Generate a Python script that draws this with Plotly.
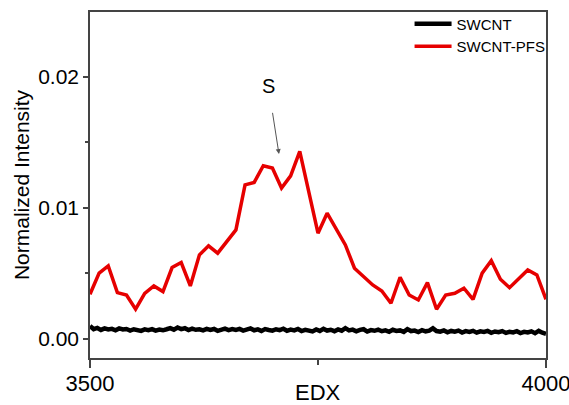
import plotly.graph_objects as go

# Red series: SWCNT-PFS, sampled every 10 units from 3500 to 4000
pfs_x = list(range(3500, 4001, 10))
pfs_y = [0.00339, 0.00500, 0.00556, 0.00351, 0.00333, 0.00224, 0.00346, 0.00402, 0.00359, 0.00543,
         0.00581, 0.00402, 0.00640, 0.00709, 0.00653, 0.00747, 0.00831, 0.01176, 0.01194, 0.01322,
         0.01304, 0.01151, 0.01245, 0.01431, 0.01120, 0.00806, 0.00959, 0.00837, 0.00716, 0.00538,
         0.00474, 0.00410, 0.00364, 0.00270, 0.00469, 0.00333, 0.00295, 0.00428, 0.00224, 0.00333,
         0.00346, 0.00385, 0.00300, 0.00500, 0.00596, 0.00454, 0.00389, 0.00461, 0.00525, 0.00487,
         0.00300]

# Black series: SWCNT, sampled every 4 units
swcnt_x = list(range(3500, 4001, 4))
swcnt_y = [0.00095, 0.00072, 0.00081, 0.00066, 0.00078, 0.00070, 0.00074, 0.00063, 0.00077, 0.00069,
           0.00073, 0.00061, 0.00071, 0.00066, 0.00058, 0.00070, 0.00064, 0.00072, 0.00060, 0.00068,
           0.00063, 0.00071, 0.00080, 0.00068, 0.00084, 0.00072, 0.00079, 0.00065, 0.00076, 0.00067,
           0.00071, 0.00062, 0.00074, 0.00066, 0.00073, 0.00059, 0.00070, 0.00076, 0.00064, 0.00072,
           0.00066, 0.00074, 0.00061, 0.00069, 0.00077, 0.00063, 0.00070, 0.00058, 0.00072, 0.00065,
           0.00060, 0.00071, 0.00064, 0.00075, 0.00059, 0.00068, 0.00062, 0.00073, 0.00057, 0.00066,
           0.00063, 0.00054, 0.00069, 0.00058, 0.00074, 0.00061, 0.00067, 0.00056, 0.00070, 0.00060,
           0.00079, 0.00062, 0.00068, 0.00055, 0.00066, 0.00071, 0.00053, 0.00064, 0.00059, 0.00068,
           0.00056, 0.00063, 0.00052, 0.00067, 0.00058, 0.00062, 0.00051, 0.00072, 0.00057, 0.00061,
           0.00050, 0.00064, 0.00055, 0.00060, 0.00078, 0.00057, 0.00052, 0.00062, 0.00048, 0.00058,
           0.00053, 0.00061, 0.00046, 0.00057, 0.00051, 0.00059, 0.00045, 0.00055, 0.00050, 0.00058,
           0.00044, 0.00054, 0.00049, 0.00057, 0.00043, 0.00052, 0.00047, 0.00056, 0.00042, 0.00051,
           0.00046, 0.00055, 0.00041, 0.00058, 0.00044, 0.00036]

x_ticks = [3500, 4000]
y_ticks = [0.0, 0.01, 0.02]
y_tick_labels = ["0.00", "0.01", "0.02"]

FONT = "Liberation Sans, Arial, sans-serif"

fig = go.Figure()
fig.add_trace(go.Scatter(x=swcnt_x, y=swcnt_y, mode="lines", name="SWCNT",
                         line=dict(color="black", width=4.5)))
fig.add_trace(go.Scatter(x=pfs_x, y=pfs_y, mode="lines", name="SWCNT-PFS",
                         line=dict(color="#e60000", width=3.5)))

axis_common = dict(showline=True, linecolor="#444", linewidth=1.5, mirror=True,
                   showgrid=False, zeroline=False, ticks="outside", tickcolor="#444",
                   automargin=False, ticklabeloverflow="allow")

fig.update_xaxes(range=[3500, 4000], tickvals=x_ticks, ticklen=8, tickwidth=1.5,
                 ticklabelstandoff=-3,
                 tickfont=dict(family=FONT, size=22, color="black"),
                 minor=dict(tickvals=[3750], ticklen=5, ticks="outside", tickcolor="#444", tickwidth=1.5),
                 **axis_common)
fig.update_yaxes(range=[-0.00149, 0.02498], tickvals=y_ticks, ticktext=y_tick_labels,
                 ticklen=5, tickwidth=1.5,
                 tickfont=dict(family=FONT, size=21, color="black"),
                 minor=dict(tickvals=[0.005, 0.015], ticklen=3, ticks="outside", tickcolor="#444", tickwidth=1.5),
                 title=dict(text="Normalized Intensity", font=dict(family=FONT, size=21, color="black"), standoff=3),
                 **axis_common)

# x-axis title placed as text just below the axis (overlaps the tick-label band as in the reference)
fig.add_annotation(x=0.5, y=-0.1, xref="paper", yref="paper", text="EDX", showarrow=False,
                   yanchor="middle", font=dict(family=FONT, size=22, color="black"))

fig.add_annotation(x=3695.5, y=0.01929, text="S", showarrow=False,
                   font=dict(family=FONT, size=20, color="black"))
fig.add_annotation(x=3707.2, y=0.01411, ax=3699.9, ay=0.01738, axref="x", ayref="y",
                   text="", showarrow=True, arrowhead=2, arrowsize=1, arrowwidth=1,
                   arrowcolor="#555", standoff=0)

fig.update_layout(width=569, height=405,
                  margin=dict(l=90, r=23, t=12, b=47, autoexpand=False),
                  paper_bgcolor="white", plot_bgcolor="white",
                  legend=dict(x=1.01, xanchor="right", y=1.013, yanchor="top",
                              bgcolor="rgba(0,0,0,0)", itemwidth=37,
                              font=dict(family=FONT, size=15, color="black"),
                              tracegroupgap=0))

fig.write_html("out.html")
